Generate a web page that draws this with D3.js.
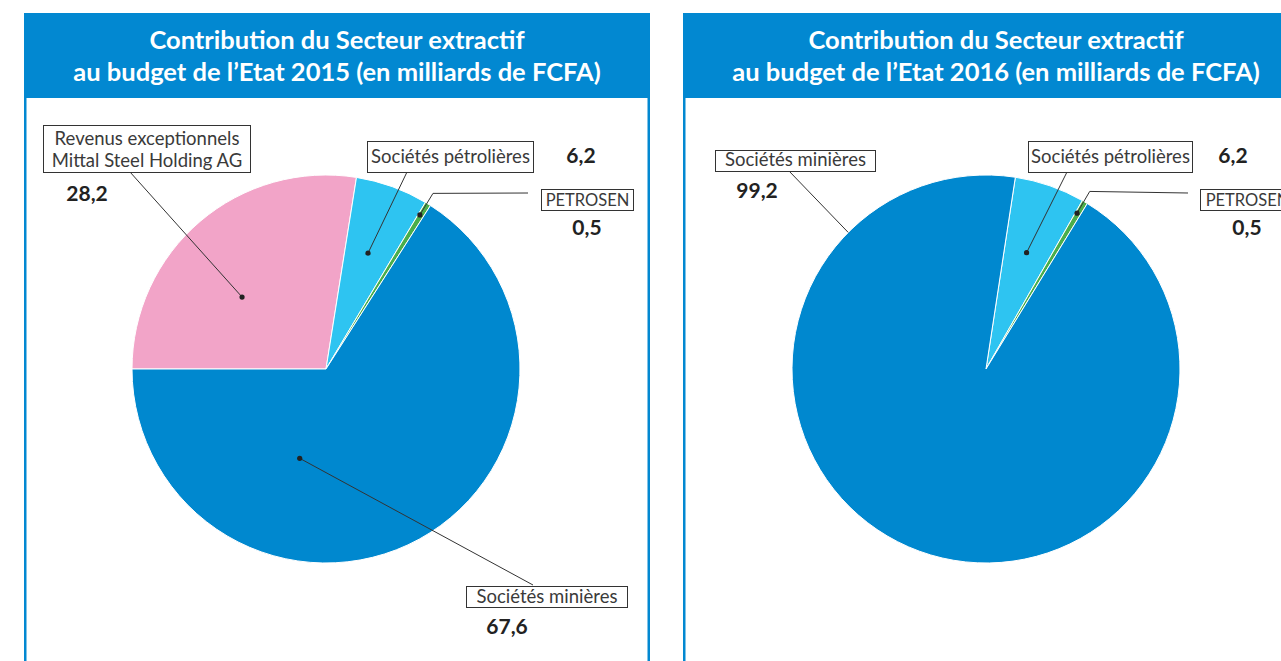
<!DOCTYPE html>
<html>
<head>
<meta charset="utf-8">
<script src="https://cdn.jsdelivr.net/npm/d3@7"></script>
<style>
  html, body { margin: 0; padding: 0; background: #fff; overflow: hidden; }
  svg { display: block; font-family: Lato, "Open Sans", sans-serif; }
  .box { fill: #fff; stroke: #333; stroke-width: 1; }
  .lbl { fill: #3a3a3a; font-size: 18.5px; }
  .val { fill: #222; font-size: 21px; font-weight: 700; }
  .lead { fill: none; stroke: #333; stroke-width: 1; }
</style>
</head>
<body>
<div id="chart"></div>
<script>
// ── données ──
const titles2015 = ['Contribution du Secteur extractif', 'au budget de l’Etat 2015 (en milliards de FCFA)'];
const titles2016 = ['Contribution du Secteur extractif', 'au budget de l’Etat 2016 (en milliards de FCFA)'];

const categories2015 = ['Revenus exceptionnels Mittal Steel Holding AG', 'Sociétés pétrolières', 'PETROSEN', 'Sociétés minières'];
const values2015     = [28.2, 6.2, 0.5, 67.6];

const categories2016 = ['Sociétés pétrolières', 'PETROSEN', 'Sociétés minières'];
const values2016     = [6.2, 0.5, 99.2];

const valueLabels2015 = ['28,2', '6,2', '0,5', '67,6'];
const valueLabels2016 = ['6,2', '0,5', '99,2'];

// ── styles ──
const BLUE = '#0288d1';
const colour = d3.scaleOrdinal()
  .domain(['Revenus exceptionnels Mittal Steel Holding AG', 'Sociétés pétrolières', 'PETROSEN', 'Sociétés minières'])
  .range(['#f2a4c8', '#2ec4f1', '#4aae4a', '#0088cf']);

const W = 1281, H = 661;
const svg = d3.select('#chart').append('svg').attr('width', W).attr('height', H);

// ── mise en page des panneaux et étiquettes ──
const panels = [
  {
    x: 24, titles: titles2015, cats: categories2015, vals: values2015, vlabels: valueLabels2015,
    cx: 326, cy: 369, r: 194, start: -90,
    labels: [
      { box: [43, 125, 207, 47], lines: ['Revenus exceptionnels', 'Mittal Steel Holding AG'], ly: [145, 167],
        val: [87, 201], t: 0.41, rf: 0.57, end: [130, 172], dot: true },
      { box: [367, 141, 166, 31], lines: ['Sociétés pétrolières'], ly: [163],
        val: [581, 163], t: 0.5, rf: 0.635, end: [407, 172], dot: true },
      { box: [541, 189, 92, 21], lines: ['PETROSEN'], ly: [206], fs: 16.5,
        val: [587, 235], t: 0.3, rf: 0.93, elbow: 1.06, end: [528, 193], dot: true },
      { box: [466, 586, 161, 21], lines: ['Sociétés minières'], ly: [603],
        val: [507, 634], t: 0.69, rf: 0.48, end: [533, 585], dot: true }
    ]
  },
  {
    x: 683, titles: titles2016, cats: categories2016, vals: values2016, vlabels: valueLabels2016,
    cx: 986, cy: 369, r: 194, start: 8.7,
    labels: [
      { box: [1028, 141, 164, 31], lines: ['Sociétés pétrolières'], ly: [163],
        val: [1233, 163], t: 0.5, rf: 0.635, end: [1067, 172], dot: true },
      { box: [1200, 189, 94, 21], lines: ['PETROSEN'], ly: [206], fs: 16.5,
        val: [1247, 235], t: 0.3, rf: 0.93, elbow: 1.06, end: [1188, 193], dot: true },
      { box: [715, 150, 160, 21], lines: ['Sociétés minières'], ly: [166],
        val: [757, 198], t: 0.84, rf: 1.0, end: [789, 171], dot: false }
    ]
  }
];

const PW = 626, headTop = 13, headBot = 98;

panels.forEach(p => {
  const g = svg.append('g');

  // ── cadre ──
  g.append('rect').attr('x', p.x).attr('y', headTop).attr('width', PW).attr('height', headBot - headTop)
    .attr('fill', BLUE);
  [p.x + 1.25, p.x + PW - 1.25].forEach(x =>
    g.append('line').attr('x1', x).attr('x2', x).attr('y1', headTop).attr('y2', H)
      .attr('stroke', BLUE).attr('stroke-width', 2.5));

  g.selectAll('text.title').data(p.titles).enter().append('text')
    .attr('class', 'title')
    .attr('x', p.x + PW / 2).attr('y', (d, i) => 49 + i * 32)
    .attr('text-anchor', 'middle')
    .attr('fill', '#fff').attr('font-size', 25.5).attr('font-weight', 700)
    .text(d => d);

  // ── camembert ──
  const a0 = p.start * Math.PI / 180;
  const pie = d3.pie().sort(null).value(d => d.v).startAngle(a0).endAngle(a0 + 2 * Math.PI);
  const arcs = pie(p.cats.map((c, i) => ({ c, v: p.vals[i], lab: p.vlabels[i] })));
  const arc = d3.arc().innerRadius(0).outerRadius(p.r);

  const pg = g.append('g').attr('transform', `translate(${p.cx},${p.cy})`);
  pg.selectAll('path').data(arcs).enter().append('path')
    .attr('d', arc)
    .attr('fill', d => colour(d.data.c))
    .attr('stroke', '#fff').attr('stroke-width', 1).attr('stroke-linejoin', 'round');

  // ── étiquettes ──
  const pt = (ang, rr) => [p.cx + rr * Math.sin(ang), p.cy - rr * Math.cos(ang)];
  p.labels.forEach((L, i) => {
    const d = arcs.find(a => a.data.c === (L.lines.length > 1 ? L.lines.join(' ') : L.lines[0]));
    const ang = d.startAngle + (d.endAngle - d.startAngle) * L.t;
    const dp = pt(ang, p.r * L.rf);
    const pts = [dp];
    if (L.elbow) pts.push(pt(ang, p.r * L.elbow));
    pts.push(L.end);
    g.append('path').attr('class', 'lead').attr('d', d3.line()(pts));
    if (L.dot) g.append('circle').attr('cx', dp[0]).attr('cy', dp[1]).attr('r', 2.6).attr('fill', '#222');

    const [bx, by, bw, bh] = L.box;
    g.append('rect').attr('class', 'box').attr('x', bx + 0.5).attr('y', by + 0.5).attr('width', bw).attr('height', bh);
    L.lines.forEach((t, j) =>
      g.append('text').attr('class', 'lbl').attr('x', bx + bw / 2 + 0.5).attr('y', L.ly[j])
        .attr('text-anchor', 'middle').style('font-size', L.fs ? L.fs + 'px' : null).text(t));
    g.append('text').attr('class', 'val').attr('x', L.val[0]).attr('y', L.val[1])
      .attr('text-anchor', 'middle').text(d.data.lab);
  });
});
</script>
</body>
</html>
